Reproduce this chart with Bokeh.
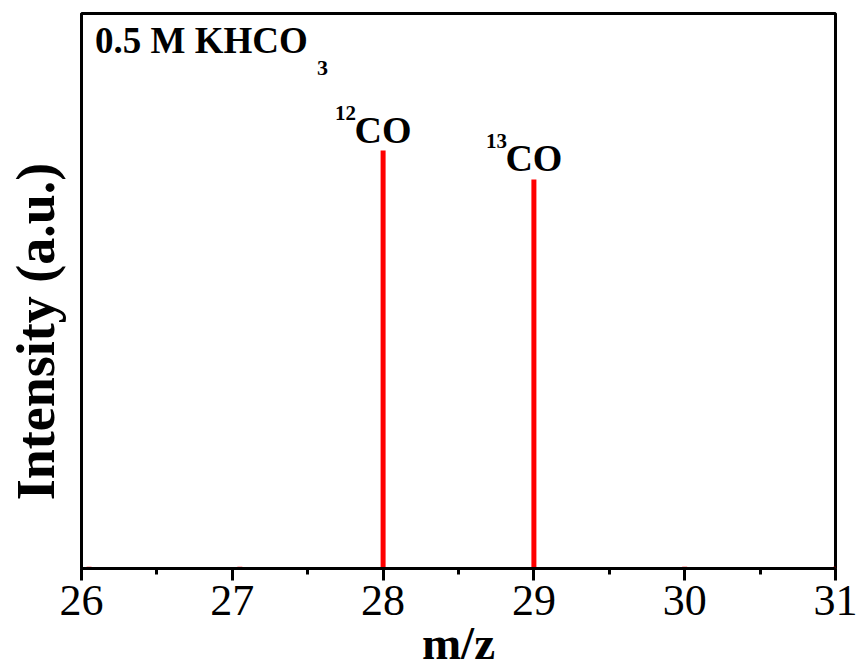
from bokeh.plotting import figure
from bokeh.models import Label, Range1d, FixedTicker, ColumnDataSource
from bokeh.embed import file_html
from bokeh.resources import INLINE

# m/z positions and measured intensities (a.u.)
mz = [26.05, 27.05, 28, 29, 30, 31]
intensity = [0.003, 0.003, 0.753, 0.701, 0.003, 0.003]

# peak annotations: (m/z, isotope mass number)
peak_mz = [28, 29]
peak_mass = ["12", "13"]

x_ticks = [26, 27, 28, 29, 30, 31]
x_minor_ticks = [26.5, 27.5, 28.5, 29.5, 30.5]

SERIF = "Liberation Serif"

p = figure(width=857, height=670, output_backend="svg", toolbar_location=None,
           x_range=Range1d(26, 31), y_range=Range1d(0, 1),
           min_border_left=81, min_border_right=22,
           min_border_top=13, min_border_bottom=102)

p.background_fill_color = "white"
p.border_fill_color = "white"
p.outline_line_color = "black"
p.outline_line_width = 3
p.xgrid.visible = False
p.ygrid.visible = False

# bottom axis: m/z ticks
ax = p.xaxis[0]
ax.ticker = FixedTicker(ticks=x_ticks, minor_ticks=x_minor_ticks)
ax.axis_line_width = 3
ax.axis_line_color = "black"
ax.major_tick_in = 0
ax.major_tick_out = 12
ax.major_tick_line_width = 3
ax.minor_tick_in = 0
ax.minor_tick_out = 6
ax.minor_tick_line_width = 3
ax.major_label_text_font = SERIF
ax.major_label_text_font_size = "44px"
ax.major_label_text_color = "black"
ax.major_label_standoff = 5

# left axis: label only, intensity in arbitrary units has no ticks
ay = p.yaxis[0]
ay.ticker = FixedTicker(ticks=[])
ay.axis_line_width = 3
ay.axis_line_color = "black"
ay.major_tick_in = 0
ay.major_tick_out = 0
ay.minor_tick_in = 0
ay.minor_tick_out = 0
ay.axis_label = "Intensity (a.u.)" + "\u00a0" * 6
ay.axis_label_text_font = SERIF
ay.axis_label_text_font_style = "bold"
ay.axis_label_text_font_size = "54px"
ay.axis_label_text_color = "black"
ay.axis_label_standoff = 16

src = ColumnDataSource(dict(x=mz, y0=[0] * len(mz), y1=intensity))
p.segment(x0="x", y0="y0", x1="x", y1="y1", source=src,
          line_color="#ff0000", line_width=5)

# peak labels: centred "CO" with the mass number as a superscript
for xm, mass in zip(peak_mz, peak_mass):
    h = intensity[mz.index(xm)]
    p.add_layout(Label(x=xm, y=h, y_offset=21, text="CO",
                       text_font=SERIF, text_font_style="bold",
                       text_font_size="38px", text_align="center",
                       text_baseline="alphabetic", text_color="black"))
    p.add_layout(Label(x=xm, y=h, x_offset=-27, y_offset=38, text=mass,
                       text_font=SERIF, text_font_style="bold",
                       text_font_size="21px", text_align="right",
                       text_baseline="alphabetic", text_color="black"))

# electrolyte tag in the upper-left corner
p.add_layout(Label(x=26.09, y=0.952, text="0.5 M KHCO",
                   text_font=SERIF, text_font_style="bold",
                   text_font_size="37px", text_align="left",
                   text_baseline="alphabetic", text_color="black"))
p.add_layout(Label(x=26.09, y=0.952, x_offset=222, y_offset=-28, text="3",
                   text_font=SERIF, text_font_style="bold",
                   text_font_size="22px", text_align="left",
                   text_baseline="alphabetic", text_color="black"))

# x-axis title sits in the lower border, under the tick labels
p.add_layout(Label(x=28.5, y=0, y_offset=-74, text="m/z",
                   text_font=SERIF, text_font_style="bold",
                   text_font_size="47px",
                   text_align="center",
                   text_baseline="alphabetic", text_color="black"), "below")

open("out.html", "w").write(file_html(p, INLINE))
